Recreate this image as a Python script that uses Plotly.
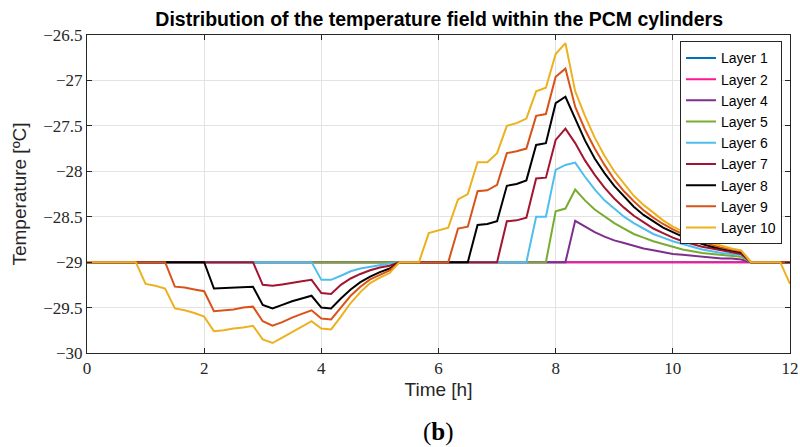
import plotly.graph_objects as go

# Sampling grid: every 10 minutes over 12 h
time_min = list(range(0, 730, 10))
time_h = [m / 60 for m in time_min]

layer_names = ["Layer 1", "Layer 2", "Layer 4", "Layer 5", "Layer 6",
               "Layer 7", "Layer 8", "Layer 9", "Layer 10"]
layer_colors = ["#0072BD", "#FF1493", "#7E2F8E", "#77AC30", "#4DBEEE",
                "#A2142F", "#000000", "#D95319", "#EDB120"]

layer1 = [-29.0] * 73
layer2 = [-29.0] * 73
layer4 = ([-29.0] * 50 +
          [-28.545, -28.61, -28.67, -28.72, -28.76, -28.79, -28.82, -28.85, -28.87,
           -28.89, -28.91, -28.92, -28.93, -28.94, -28.95, -28.96, -28.96, -28.97] +
          [-29.0] * 5)
layer5 = ([-29.0] * 48 +
          [-28.44, -28.41, -28.20,
           -28.32, -28.42, -28.50, -28.57, -28.63, -28.69, -28.73, -28.77, -28.80,
           -28.83, -28.86, -28.88, -28.90, -28.91, -28.92, -28.93, -28.94] +
          [-29.0] * 5)
layer6 = ([-29.0] * 24 +
          [-29.195, -29.195, -29.15, -29.10, -29.07, -29.05, -29.03, -29.015, -29.0] +
          [-29.0] * 13 +
          [-28.50, -28.50, -27.985, -27.93, -27.905,
           -28.06, -28.20, -28.32, -28.41, -28.50, -28.57, -28.63, -28.69, -28.73,
           -28.77, -28.80, -28.83, -28.86, -28.88, -28.90, -28.91, -28.92] +
          [-29.0] * 5)
layer7 = ([-29.0] * 18 +
          [-29.25, -29.26, -29.245, -29.225, -29.21, -29.195, -29.34, -29.35,
           -29.25, -29.18, -29.13, -29.09, -29.06, -29.04, -29.0] +
          [-29.0] * 10 +
          [-28.55, -28.54, -28.51, -28.08, -28.07, -27.655, -27.53, -27.69,
           -27.88, -28.04, -28.18, -28.30, -28.40, -28.49, -28.56, -28.63, -28.68,
           -28.73, -28.77, -28.80, -28.83, -28.85, -28.87, -28.89, -28.91] +
          [-29.0] * 5)
layer8 = ([-29.0] * 13 +
          [-29.29, -29.285, -29.28, -29.275, -29.27, -29.47, -29.51, -29.47, -29.43,
           -29.40, -29.37, -29.50, -29.51, -29.40, -29.30, -29.22, -29.16, -29.11,
           -29.07, -29.0] +
          [-29.0] * 7 +
          [-28.59, -28.58, -28.55, -28.16, -28.14, -28.10, -27.71, -27.69, -27.25,
           -27.18, -27.42,
           -27.66, -27.86, -28.02, -28.16, -28.28, -28.39, -28.48, -28.55, -28.62,
           -28.67, -28.72, -28.76, -28.80, -28.83, -28.85, -28.87, -28.89] +
          [-29.0] * 5)
layer9 = ([-29.0] * 9 +
          [-29.27, -29.28, -29.30, -29.32, -29.54, -29.53, -29.52, -29.50, -29.49,
           -29.65, -29.70, -29.66, -29.61, -29.57, -29.53, -29.62, -29.63, -29.50,
           -29.37, -29.27, -29.19, -29.14, -29.09, -29.0] +
          [-29.0] * 5 +
          [-28.63, -28.61, -28.22, -28.21, -28.15, -27.80, -27.78, -27.75, -27.39,
           -27.37, -26.96, -26.87, -27.29,
           -27.54, -27.75, -27.93, -28.09, -28.22, -28.33, -28.43, -28.51, -28.58,
           -28.64, -28.69, -28.74, -28.78, -28.81, -28.84, -28.86, -28.88] +
          [-29.0] * 5)
layer10 = ([-29.0] * 6 +
           [-29.24, -29.26, -29.29, -29.51, -29.53, -29.56, -29.60, -29.76, -29.75,
            -29.73, -29.72, -29.70, -29.85, -29.89, -29.83, -29.77, -29.71, -29.65,
            -29.73, -29.74, -29.60, -29.45, -29.33, -29.23, -29.17, -29.12, -29.0,
            -29.0, -29.0,
            -28.68, -28.65, -28.62, -28.31, -28.25, -27.90, -27.90, -27.80, -27.50,
            -27.47, -27.42, -27.12, -27.08, -26.71, -26.59, -27.12,
            -27.39, -27.63, -27.83, -28.00, -28.14, -28.27, -28.37, -28.46, -28.54,
            -28.61, -28.66, -28.71, -28.75, -28.79, -28.82, -28.85, -28.87] +
           [-29.0] * 4 + [-29.24])

series = [layer1, layer2, layer4, layer5, layer6, layer7, layer8, layer9, layer10]

x_ticks = [0, 2, 4, 6, 8, 10, 12]
y_ticks = [-30, -29.5, -29, -28.5, -28, -27.5, -27, -26.5]
y_ticklabels = ["\u221230", "\u221229.5", "\u221229", "\u221228.5", "\u221228",
                "\u221227.5", "\u221227", "\u221226.5"]

fig = go.Figure()
for name, color, ys in zip(layer_names, layer_colors, series):
    fig.add_trace(go.Scatter(x=time_h, y=ys, mode="lines", name=name,
                             line=dict(color=color, width=2)))

axis_common = dict(showline=True, linecolor="#262626", linewidth=1, mirror="ticks",
                   ticks="inside", ticklen=5, tickcolor="#262626", automargin=False,
                   showgrid=True, gridcolor="#E3E3E3", gridwidth=1, zeroline=False,
                   tickfont=dict(family="Liberation Serif", size=17, color="#262626"))

fig.update_xaxes(range=[0, 12], tickvals=x_ticks,
                 title=dict(text="Time [h]", standoff=5,
                            font=dict(family="Liberation Sans", size=19, color="#262626")),
                 **axis_common)
fig.update_yaxes(range=[-30, -26.5], tickvals=y_ticks, ticktext=y_ticklabels,
                 title=dict(text="Temperature [ºC]", standoff=11,
                            font=dict(family="Liberation Sans", size=19, color="#262626")),
                 **axis_common)

fig.update_layout(
    width=800, height=447,
    margin=dict(l=87, r=10, t=35, b=94),
    paper_bgcolor="white", plot_bgcolor="white",
    title=dict(text="<b>Distribution of the temperature field within the PCM cylinders</b>",
               x=0.549, xanchor="center", y=0.957, yanchor="middle",
               font=dict(family="Liberation Sans", size=19.5, color="#000000")),
    legend=dict(x=0.9886, xanchor="right", y=0.98, yanchor="top",
                bgcolor="white", bordercolor="#262626", borderwidth=1,
                font=dict(family="Liberation Sans", size=14, color="#000000"),
                tracegroupgap=0),
    showlegend=True,
    annotations=[dict(text="(<b>b</b>)", xref="paper", yref="paper", x=0.5, y=-0.248,
                      xanchor="center", yanchor="middle", showarrow=False,
                      font=dict(family="Liberation Serif", size=25, color="#000000"))],
)

fig.write_html("out.html")
